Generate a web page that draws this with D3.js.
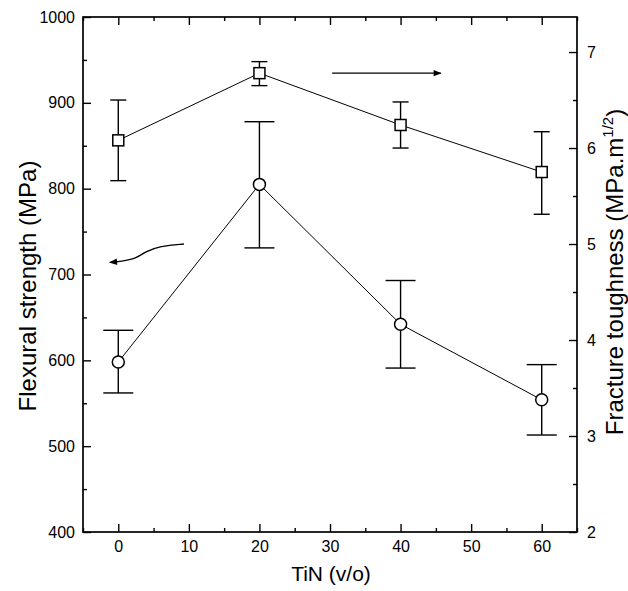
<!DOCTYPE html>
<html>
<head>
<meta charset="utf-8">
<script src="https://cdn.jsdelivr.net/npm/d3@7"></script>
<style>
  body { margin: 0; background: #fff; }
  svg { display: block; font-family: "Liberation Sans", Arial, sans-serif; }
  .frame { fill: none; stroke: #000; stroke-width: 1.7; }
  .tick line { stroke: #000; stroke-width: 1.4; }
  .tick text { fill: #000; font-size: 16px; }
  .series { fill: none; stroke: #000; stroke-width: 1; }
  .err { stroke: #000; stroke-width: 1.4; }
  .marker { fill: #fff; stroke: #000; stroke-width: 1.5; }
  .title { fill: #000; }
</style>
</head>
<body>
<div id="chart"></div>
<script>
var width = 628,
    height = 591,
    plotL = 83, plotR = 577, plotT = 17, plotB = 532;

// TiN content (v/o)
var tin = [0, 20, 40, 60];

// flexural strength (MPa), left axis
var strength = [598, 805, 642, 554];
var strengthLo = [562, 731, 591, 513];
var strengthHi = [635, 878, 693, 595];

// fracture toughness (MPa.m^1/2), right axis
var toughness = [6.08, 6.78, 6.24, 5.75];
var toughnessLo = [5.66, 6.65, 6.0, 5.31];
var toughnessHi = [6.5, 6.9, 6.48, 6.17];

var xTicks = [0, 10, 20, 30, 40, 50, 60];
var xMinor = [-5, 5, 15, 25, 35, 45, 55, 65];
var yLTicks = [400, 500, 600, 700, 800, 900, 1000];
var yLMinor = [450, 550, 650, 750, 850, 950];
var yRTicks = [2, 3, 4, 5, 6, 7];
var yRMinor = [2.5, 3.5, 4.5, 5.5, 6.5];

// arrows telling which series belongs to which axis
var arrowRight = [[30.3, 6.78], [45.7, 6.78]];
var arrowLeft = [[9.3, 735.5], [5.9, 733.2], [3.8, 726.5], [2.6, 718.8], [0.7, 715.6], [-1.2, 714.1]];

var svg = d3.select('#chart').append('svg')
    .attr('width', width)
    .attr('height', height);

var x = d3.scaleLinear().domain([-5, 65]).range([plotL, plotR]);
var yL = d3.scaleLinear().domain([400, 1000]).range([plotB, plotT]);
var yR = d3.scaleLinear().domain([2, 7.365]).range([plotB, plotT]);

function noDomain(g) { g.select('.domain').remove(); }

// bottom axis, ticks pointing in
svg.append('g').attr('transform', 'translate(0,' + plotB + ')')
    .call(d3.axisBottom(x).tickValues(xTicks).tickSizeInner(-8).tickSizeOuter(0).tickPadding(9))
    .call(noDomain);
svg.append('g').attr('transform', 'translate(0,' + plotB + ')')
    .call(d3.axisBottom(x).tickValues(xMinor).tickSizeInner(-4).tickSizeOuter(0).tickFormat(''))
    .call(noDomain);
// top axis mirror
svg.append('g').attr('transform', 'translate(0,' + plotT + ')')
    .call(d3.axisTop(x).tickValues(xTicks).tickSizeInner(-8).tickSizeOuter(0).tickFormat(''))
    .call(noDomain);
svg.append('g').attr('transform', 'translate(0,' + plotT + ')')
    .call(d3.axisTop(x).tickValues(xMinor).tickSizeInner(-4).tickSizeOuter(0).tickFormat(''))
    .call(noDomain);

// left axis
svg.append('g').attr('transform', 'translate(' + plotL + ',0)')
    .call(d3.axisLeft(yL).tickValues(yLTicks).tickSizeInner(-8).tickSizeOuter(0).tickPadding(8).tickFormat(d3.format('d')))
    .call(noDomain);
svg.append('g').attr('transform', 'translate(' + plotL + ',0)')
    .call(d3.axisLeft(yL).tickValues(yLMinor).tickSizeInner(-4).tickSizeOuter(0).tickFormat(''))
    .call(noDomain);

// right axis
svg.append('g').attr('transform', 'translate(' + plotR + ',0)')
    .call(d3.axisRight(yR).tickValues(yRTicks).tickSizeInner(-8).tickSizeOuter(0).tickPadding(10).tickFormat(d3.format('d')))
    .call(noDomain);
svg.append('g').attr('transform', 'translate(' + plotR + ',0)')
    .call(d3.axisRight(yR).tickValues(yRMinor).tickSizeInner(-4).tickSizeOuter(0).tickFormat(''))
    .call(noDomain);

svg.append('rect').attr('class', 'frame')
    .attr('x', plotL).attr('y', plotT)
    .attr('width', plotR - plotL).attr('height', plotB - plotT);

function drawSeries(vals, lo, hi, y, capW, shape) {
    var pts = tin.map(function(t, i) { return {x: t, y: vals[i], lo: lo[i], hi: hi[i]}; });
    var g = svg.append('g');
    g.selectAll('line.v').data(pts).enter().append('line').attr('class', 'err')
        .attr('x1', function(d) { return x(d.x); }).attr('x2', function(d) { return x(d.x); })
        .attr('y1', function(d) { return y(d.lo); }).attr('y2', function(d) { return y(d.hi); });
    ['lo', 'hi'].forEach(function(k) {
        g.selectAll('line.' + k).data(pts).enter().append('line').attr('class', 'err ' + k)
            .attr('x1', function(d) { return x(d.x) - capW / 2; })
            .attr('x2', function(d) { return x(d.x) + capW / 2; })
            .attr('y1', function(d) { return y(d[k]); })
            .attr('y2', function(d) { return y(d[k]); });
    });
    g.append('path').attr('class', 'series')
        .attr('d', d3.line().x(function(d) { return x(d.x); }).y(function(d) { return y(d.y); })(pts));
    if (shape === 'circle') {
        g.selectAll('circle').data(pts).enter().append('circle').attr('class', 'marker')
            .attr('cx', function(d) { return x(d.x); })
            .attr('cy', function(d) { return y(d.y); })
            .attr('r', 6);
    } else {
        g.selectAll('rect').data(pts).enter().append('rect').attr('class', 'marker')
            .attr('x', function(d) { return x(d.x) - 5.5; })
            .attr('y', function(d) { return y(d.y) - 5.5; })
            .attr('width', 11).attr('height', 11);
    }
}

drawSeries(strength, strengthLo, strengthHi, yL, 30, 'circle');
drawSeries(toughness, toughnessLo, toughnessHi, yR, 16, 'square');

// arrows
svg.append('defs').append('marker')
    .attr('id', 'head').attr('viewBox', '0 0 10 10')
    .attr('refX', 9).attr('refY', 5)
    .attr('markerWidth', 10).attr('markerHeight', 8)
    .attr('markerUnits', 'userSpaceOnUse')
    .attr('orient', 'auto')
  .append('path').attr('d', 'M0,1L10,5L0,9Z').attr('fill', '#000');

svg.append('path')
    .attr('d', d3.line().x(function(d) { return x(d[0]); }).y(function(d) { return yR(d[1]); })(arrowRight))
    .attr('fill', 'none').attr('stroke', '#000').attr('stroke-width', 1.4)
    .attr('marker-end', 'url(#head)');
svg.append('path')
    .attr('d', d3.line().curve(d3.curveBasis).x(function(d) { return x(d[0]); }).y(function(d) { return yL(d[1]); })(arrowLeft))
    .attr('fill', 'none').attr('stroke', '#000').attr('stroke-width', 1.4)
    .attr('marker-end', 'url(#head)');

// axis titles
svg.append('text').attr('class', 'title')
    .attr('x', 331).attr('y', 581)
    .attr('font-size', 21)
    .attr('text-anchor', 'middle')
    .text('TiN (v/o)');
svg.append('text').attr('class', 'title')
    .attr('transform', 'translate(36,286) rotate(-90)')
    .attr('font-size', 24)
    .attr('text-anchor', 'middle')
    .text('Flexural strength (MPa)');
var rt = svg.append('text').attr('class', 'title')
    .attr('transform', 'translate(623,272) rotate(-90)')
    .attr('font-size', 24)
    .attr('text-anchor', 'middle');
rt.append('tspan').text('Fracture toughness (MPa.m');
rt.append('tspan').attr('dy', -10).attr('font-size', 15).text('1/2');
rt.append('tspan').attr('dy', 10).text(')');
</script>
</body>
</html>
